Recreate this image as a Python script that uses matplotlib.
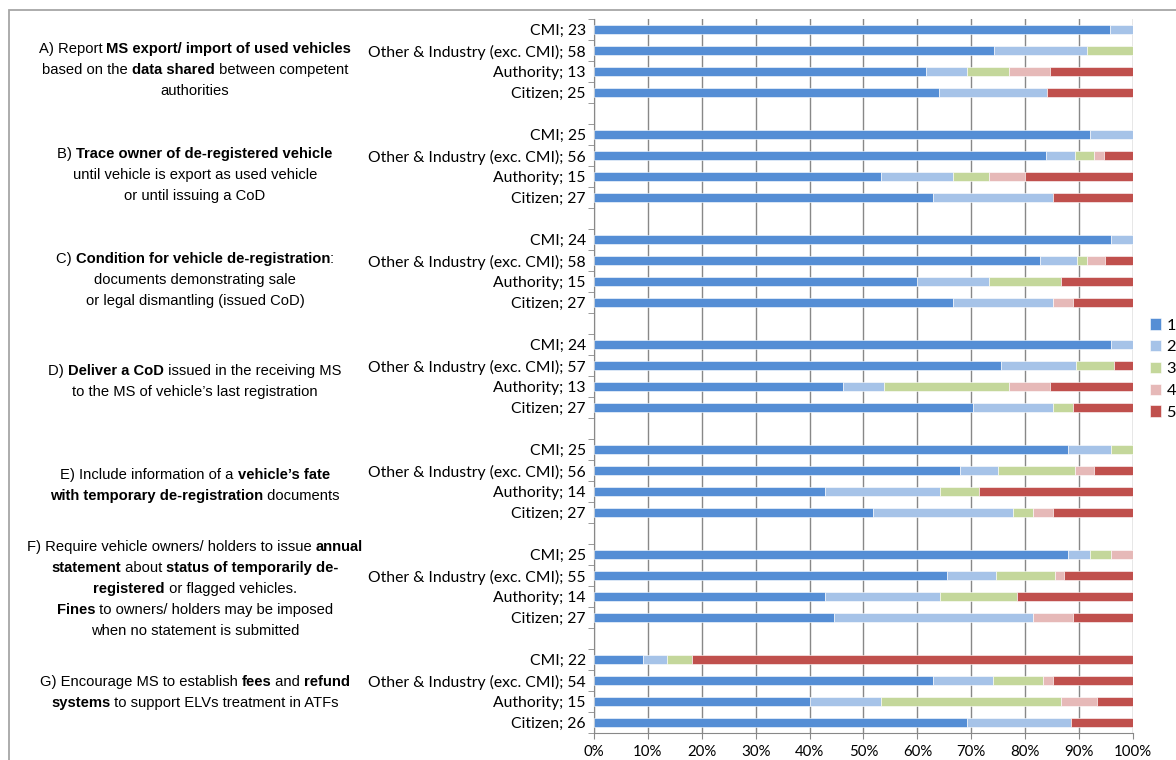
import numpy as np
import matplotlib.pyplot as plt
from matplotlib.offsetbox import TextArea, HPacker, AnnotationBbox
from matplotlib.patches import Rectangle

groups = ['A', 'B', 'C', 'D', 'E', 'F', 'G']
respondents = ['CMI', 'Other & Industry (exc. CMI)', 'Authority', 'Citizen']
levels = ['1', '2', '3', '4', '5']

# number of answers per score, groups A..G, respondents in the order above
score_1 = [22, 43, 8, 16, 23, 47, 8, 17, 23, 48, 9, 18, 23, 43, 6, 19,
           22, 38, 6, 14, 22, 36, 6, 12, 2, 34, 6, 18]
score_2 = [1, 10, 1, 5, 2, 3, 2, 6, 1, 4, 2, 5, 1, 8, 1, 4,
           2, 4, 3, 7, 1, 5, 3, 10, 1, 6, 2, 5]
score_3 = [0, 5, 1, 0, 0, 2, 1, 0, 0, 1, 2, 0, 0, 4, 3, 1,
           1, 8, 1, 1, 1, 6, 2, 0, 1, 5, 5, 0]
score_4 = [0, 0, 1, 0, 0, 1, 1, 0, 0, 2, 0, 1, 0, 0, 1, 0,
           0, 2, 0, 1, 1, 1, 0, 2, 0, 1, 1, 0]
score_5 = [0, 0, 2, 4, 0, 3, 3, 4, 0, 3, 2, 3, 0, 2, 2, 3,
           0, 4, 4, 4, 0, 7, 3, 3, 18, 8, 1, 3]

# (text, bold) segments per line
descriptions = [
    [[('A) Report ', 0), ('MS export/ import of used vehicles', 1)],
     [('based on the ', 0), ('data shared', 1), (' between competent', 0)],
     [('authorities', 0)]],
    [[('B) ', 0), ('Trace owner of de-registered vehicle', 1)],
     [('until vehicle is export as used vehicle', 0)],
     [('or until issuing a CoD', 0)]],
    [[('C) ', 0), ('Condition for vehicle de-registration', 1), (':', 0)],
     [('documents demonstrating sale', 0)],
     [('or legal dismantling (issued CoD)', 0)]],
    [[('D) ', 0), ('Deliver a CoD', 1), (' issued in the receiving MS', 0)],
     [('to the MS of vehicle\u2019s last registration', 0)]],
    [[('E) Include information of a ', 0), ('vehicle\u2019s fate', 1)],
     [('with temporary de-registration', 1), (' documents', 0)]],
    [[('F) Require vehicle owners/ holders to issue ', 0), ('annual', 1)],
     [('statement', 1), (' about ', 0), ('status of temporarily de-', 1)],
     [('registered', 1), (' or flagged vehicles.', 0)],
     [('Fines', 1), (' to owners/ holders may be imposed', 0)],
     [('when no statement is submitted', 0)]],
    [[('G) Encourage MS to establish ', 0), ('fees', 1), (' and ', 0), ('refund', 1)],
     [('systems', 1), (' to support ELVs treatment in ATFs', 0)]],
]
desc_top_px = [49, 154, 259, 371, 475, 547, 682]

colors = ['#558ED5', '#A6C3E8', '#C4D79B', '#E6B9B8', '#C0504D']

W, H = 1176, 760
fig = plt.figure(figsize=(W / 100, H / 100), dpi=100)
ax = fig.add_axes([594 / W, 27 / H, 539 / W, 714 / H])

counts = np.array([score_1, score_2, score_3, score_4, score_5], dtype=float)
totals = counts.sum(axis=0)
shares = counts / totals

ypos = np.array([g * 5 + i for g in range(len(groups)) for i in range(len(respondents))])
labels = [f'{r}; {int(t)}' for r, t in zip(respondents * len(groups), totals)]

left = np.zeros(len(ypos))
for k in range(len(levels)):
    ax.barh(ypos, shares[k], left=left, height=0.45, color=colors[k],
            edgecolor='white', linewidth=0.4, label=levels[k], zorder=3)
    left += shares[k]

ax.set_xlim(0, 1)
ax.set_ylim(ypos.max() + 0.5, -0.5)
ax.set_xticks(np.linspace(0, 1, 11))
ax.set_xticklabels([f'{int(v)}%' for v in np.linspace(0, 100, 11)])
ax.set_yticks(ypos)
ax.set_yticklabels(labels)
ax.set_yticks(np.arange(-0.5, ypos.max() + 1, 1), minor=True)
ax.tick_params(axis='y', which='major', length=0, pad=6, labelsize=11.3)
ax.tick_params(axis='y', which='minor', length=4, color='#888888')
ax.tick_params(axis='x', length=4, color='#888888', labelsize=10.8, pad=5)
for lab in ax.get_xticklabels() + ax.get_yticklabels():
    lab.set_fontfamily('Lato')
ax.grid(axis='x', color='#888888', linewidth=1, zorder=0)
for s in ['top', 'right']:
    ax.spines[s].set_visible(False)
for s in ['left', 'bottom']:
    ax.spines[s].set_color('#888888')

fig.legend(loc='center left', bbox_to_anchor=(1150 / W, 1 - 369 / H), frameon=False,
           handlelength=0.7, handleheight=0.7, handletextpad=0.3, labelspacing=0.45,
           prop={'family': 'Lato', 'size': 11.8}, borderpad=0, borderaxespad=0)

for block, top in zip(descriptions, desc_top_px):
    for j, line in enumerate(block):
        parts = [TextArea(t, textprops=dict(family='Liberation Sans', size=10.6,
                                            weight='bold' if b else 'normal'))
                 for t, b in line]
        box = HPacker(children=parts, pad=0, sep=0, align='baseline')
        ab = AnnotationBbox(box, (195 / W, 1 - (top + 21 * j) / H), xycoords='figure fraction',
                            box_alignment=(0.5, 0.5), frameon=False, pad=0)
        fig.add_artist(ab)

fig.add_artist(Rectangle((9 / W, -0.1), 1.2, 1.1 - 10 / H, transform=fig.transFigure,
                         fill=False, edgecolor='#a6a6a6', linewidth=1.3))

fig.savefig('out.png', dpi=100)
